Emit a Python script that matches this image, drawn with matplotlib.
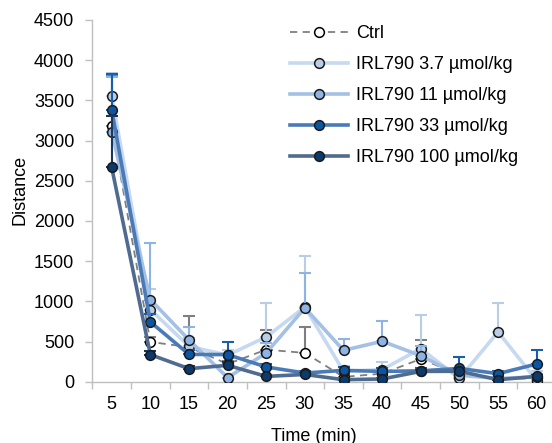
import numpy as np
import matplotlib.pyplot as plt

plt.rcParams['font.family'] = ['Liberation Sans', 'DejaVu Sans']

time = [5, 10, 15, 20, 25, 30, 35, 40, 45, 50, 55, 60]

labels = ['Ctrl', 'IRL790 3.7 µmol/kg', 'IRL790 11 µmol/kg',
          'IRL790 33 µmol/kg', 'IRL790 100 µmol/kg']

ctrl = [3180, 495, 430, 220, 399, 358, 60, 100, 283, 90, 40, 40]
d37 = [3550, 898, 440, 330, 557, 930, 130, 150, 411, 40, 620, 12]
d11 = [3110, 1022, 520, 50, 358, 918, 390, 503, 324, 80, 40, 60]
d33 = [3380, 744, 340, 337, 183, 108, 141, 128, 135, 165, 100, 220]
d100 = [2665, 337, 162, 204, 66, 90, 25, 34, 128, 130, 25, 66]

# upper error (SEM) only
ctrl_err = [620, 60, 390, 40, 241, 324, 40, 40, 241, 40, 20, 20]
d37_err = [290, 258, 100, 60, 416, 640, 60, 95, 416, 30, 353, 116]
d11_err = [680, 700, 166, 40, 120, 437, 142, 257, 120, 40, 20, 30]
d33_err = [450, 100, 60, 158, 40, 30, 40, 40, 40, 143, 30, 170]
d100_err = [635, 40, 30, 40, 20, 20, 10, 10, 20, 30, 10, 20]

series = [ctrl, d37, d11, d33, d100]
errs = [ctrl_err, d37_err, d11_err, d33_err, d100_err]
line_cols = ['#7f7f7f', '#c6d9f0', '#a4c0e4', '#4a7bb7', '#4f6b8f']
face_cols = ['white', '#b9cde5', '#8db4e2', '#0a56a5', '#0c3a6b']
err_cols = ['#7f7f7f', '#b9cde5', '#8db4e2', '#1a5ea8', '#17375e']

fig = plt.figure(figsize=(5.52, 4.43), dpi=100)
ax = fig.add_axes([92.4/552, 1 - 381.7/443, 463.6/552, 361.7/443])

for i in range(len(series)):
    y = np.array(series[i])
    e = np.array(errs[i])
    ax.errorbar(time, y, yerr=[np.zeros_like(e), e], fmt='none',
                ecolor=err_cols[i], elinewidth=1.5, capsize=4.3,
                capthick=1.5, zorder=2 + i * 2)
    if i == 0:
        ax.plot(time, y, '--', color=line_cols[i], lw=1.3, dashes=(4, 3),
                marker='o', ms=7, mfc=face_cols[i], mec='black', mew=1.1,
                label=labels[i], zorder=3 + i * 2)
    else:
        ax.plot(time, y, '-', color=line_cols[i], lw=2.6,
                marker='o', ms=7, mfc=face_cols[i], mec='#1a1a1a', mew=1.1,
                label=labels[i], zorder=3 + i * 2)

ax.set_xlim(2.5, 62.5)
ax.set_ylim(0, 4500)
ax.set_xticks(time)
ax.set_xticks(np.arange(2.5, 63, 5), minor=True)
ax.set_yticks(np.arange(0, 4501, 500))

for s in ['top', 'right']:
    ax.spines[s].set_visible(False)
for s in ['left', 'bottom']:
    ax.spines[s].set_color('#bfbfbf')
    ax.spines[s].set_linewidth(1.0)

ax.tick_params(axis='x', which='major', length=0, pad=10, labelsize=13)
ax.tick_params(axis='x', which='minor', length=5, color='#bfbfbf', width=1.0)
ax.tick_params(axis='y', which='major', length=5, color='#bfbfbf', width=1.0,
               pad=8, labelsize=13)

ax.set_xlabel('Time (min)', fontsize=13)
ax.set_ylabel('Distance', fontsize=13)
ax.xaxis.set_label_coords((314 - 92.4) / 463.6, -(428 - 381.7) / 361.7)
ax.yaxis.set_label_coords(-(92.4 - 29) / 463.6, (381.7 - 190) / 361.7)

ax.legend(loc='upper left', bbox_to_anchor=(290/552, 1 - 25/443),
          bbox_transform=fig.transFigure, frameon=False, fontsize=13,
          handlelength=3.2, handletextpad=0.45, labelspacing=0.78,
          borderpad=0, borderaxespad=0)

fig.savefig('out.png', dpi=100)
